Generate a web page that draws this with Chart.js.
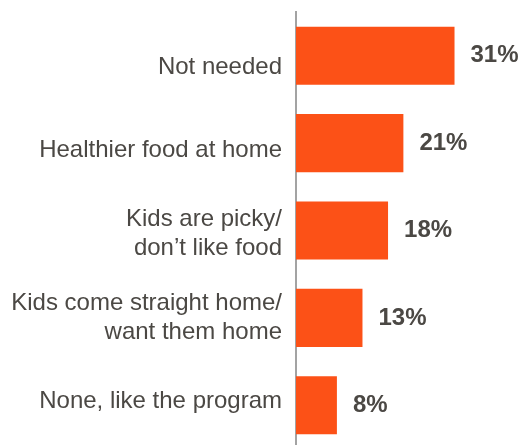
<!DOCTYPE html>
<html>
<head>
<meta charset="utf-8">
<script src="https://cdn.jsdelivr.net/npm/chart.js@4"></script>
<style>
  html, body { margin: 0; padding: 0; background: #fff; overflow: hidden; }
  #wrap { width: 521px; height: 449px; }
</style>
</head>
<body>
<div id="wrap"><canvas id="reasonsChart"></canvas></div>
<script>
// reasons for not taking part, share of answers
const reasons = [
  "Not needed",
  "Healthier food at home",
  ["Kids are picky/", "don\u2019t like food"],
  ["Kids come straight home/", "want them home"],
  "None, like the program"
];
const shares = [31, 21, 18, 13, 8];
const valueLabels = ["31%", "21%", "18%", "13%", "8%"];

const barColor = "#fc5117";
const textColor = "#4b4844";
const fontFamily = "'Liberation Sans', Arial, sans-serif";

// write the percentage just past the end of each bar
const valueLabelPlugin = {
  id: "valueLabels",
  afterDatasetsDraw(chart) {
    const ctx = chart.ctx;
    const meta = chart.getDatasetMeta(0);
    ctx.save();
    ctx.font = "bold 24px " + fontFamily;
    ctx.fillStyle = textColor;
    ctx.textAlign = "left";
    ctx.textBaseline = "middle";
    meta.data.forEach((bar, i) => {
      ctx.fillText(valueLabels[i], bar.x + 16, bar.y);
    });
    ctx.restore();
  }
};

const ctx = document.getElementById("reasonsChart").getContext("2d");
new Chart(ctx, {
  type: "bar",
  data: {
    labels: reasons,
    datasets: [{
      data: shares,
      backgroundColor: barColor,
      borderWidth: 0,
      barPercentage: 0.665,
      categoryPercentage: 1
    }]
  },
  options: {
    indexAxis: "y",
    responsive: true,
    maintainAspectRatio: false,
    animation: false,
    layout: { padding: { top: 12, right: 0, bottom: 0, left: 0 } },
    plugins: {
      legend: { display: false },
      tooltip: { enabled: false }
    },
    scales: {
      x: {
        display: false,
        min: 0,
        max: 44
      },
      // bar axis: only the grey vertical line
      y: {
        weight: 0,
        grid: { display: false, drawTicks: false },
        border: { display: true, color: "#a3a3a3", width: 2 },
        ticks: { display: false },
        afterFit(scale) {
          scale.width = 0;
          scale.paddingTop = 0;
          scale.paddingBottom = 0;
        }
      },
      // text column, spaced a little tighter than the bars
      yText: {
        type: "linear",
        position: "left",
        weight: 1,
        reverse: true,
        offset: false,
        min: -0.66,
        max: 4.57,
        grid: { display: false, drawTicks: false },
        border: { display: false },
        ticks: {
          padding: 14,
          color: textColor,
          autoSkip: false,
          font: { family: fontFamily, size: 24, lineHeight: 1.2 },
          callback: (value) => reasons[value]
        },
        afterBuildTicks(scale) {
          scale.ticks = reasons.map((r, i) => ({ value: i }));
        },
        afterFit(scale) {
          scale.width = 296;
          scale.paddingTop = 0;
          scale.paddingBottom = 0;
        }
      }
    }
  },
  plugins: [valueLabelPlugin]
});
</script>
</body>
</html>
